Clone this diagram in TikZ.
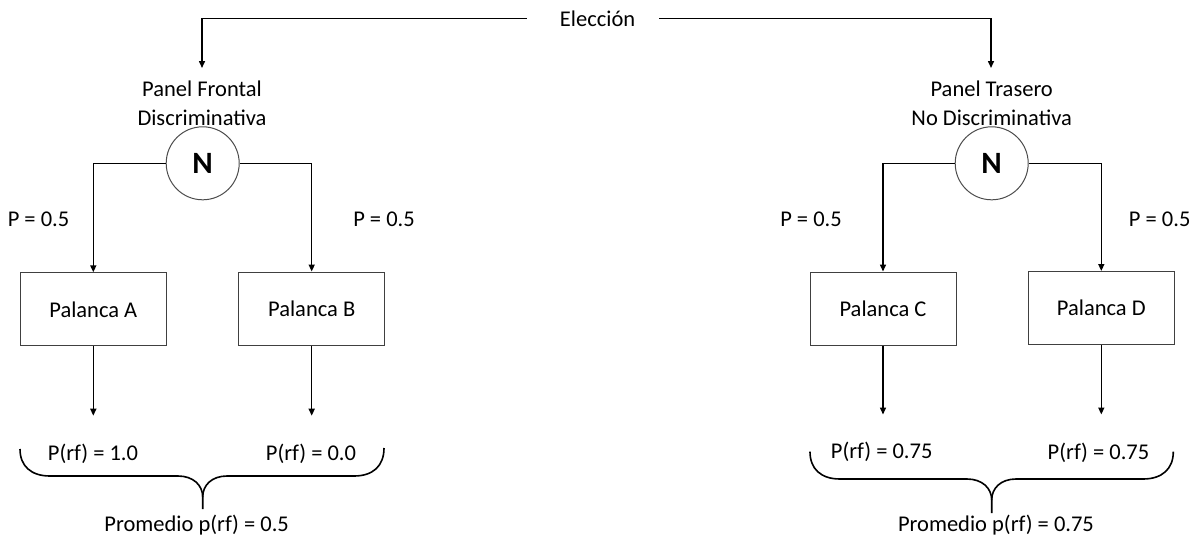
\documentclass[tikz,border=0pt]{standalone}
\usepackage{fontspec}
\setmainfont{Carlito}
\usetikzlibrary{arrows.meta}
\begin{document}
\begin{tikzpicture}[x=1pt,y=-1pt,
  lbl/.style={inner sep=0pt, anchor=base, font=\fontsize{22.5}{27}\selectfont},
  box/.style={draw=black!75, line width=1pt, minimum width=146pt, minimum height=73pt, inner sep=0pt, font=\fontsize{22.5}{27}\selectfont},
  chance/.style={circle, draw=black!70, line width=1pt, minimum size=73pt, inner sep=0pt, font=\bfseries\fontsize{31}{34}\selectfont},
  conn/.style={line width=1.5pt, -{Triangle[length=7pt,width=6pt]}},
  brace/.style={line width=1.6pt}]
\useasboundingbox (0,0) rectangle (1195,539);

% top
\node[lbl] (elec) at (597.6,26.5) {Elección};
\coordinate (eL) at (526.7,18.3);
\coordinate (eR) at (659,18.3);
\coordinate (pfin) at (202,68);
\coordinate (ptin) at (991,68);
\draw[conn] (eL) -| (pfin);
\draw[conn] (eR) -| (ptin);

% left tree
\node[lbl] (pf1) at (202,96.7) {Panel Frontal};
\node[lbl] (pf2) at (202,125) {Discriminativa};
\node[chance] (nL) at (202.7,163.3) {N};
\node[box] (bA) at (93.3,309.3) {Palanca A};
\node[box] (bB) at (311.7,308.5) {Palanca B};
\draw[conn] (nL.west) -| (bA.north);
\draw[conn] (nL.east) -| (bB.north);
\node[lbl] (pA) at (38.5,226.7) {P = 0.5};
\node[lbl] (pB) at (384,226.7) {P = 0.5};
\coordinate (oA) at (93.3,415.7);
\coordinate (oB) at (311.7,415.7);
\draw[conn] (bA.south) -- (oA);
\draw[conn] (bB.south) -- (oB);
\node[lbl] (rA) at (93,460) {P(rf) = 1.0};
\node[lbl] (rB) at (311,460) {P(rf) = 0.0};
\draw[brace] (20,449) .. controls (20,466) and (31,476) .. (50,476) -- (178,476)
  .. controls (193,476) and (202.7,485) .. (202.7,497) -- (202.7,509);
\draw[brace] (384,448) .. controls (384,466) and (373,476) .. (354,476) -- (227,476)
  .. controls (212,476) and (202.7,485) .. (202.7,497);
\node[lbl] (mA) at (196.7,531.7) {Promedio p(rf) = 0.5};

% right tree
\node[lbl] (pt1) at (991.7,96.7) {Panel Trasero};
\node[lbl] (pt2) at (991.7,125) {No Discriminativa};
\node[chance] (nR) at (991.7,163.3) {N};
\node[box] (bC) at (883,308.5) {Palanca C};
\node[box] (bD) at (1101.3,308) {Palanca D};
\draw[conn] (nR.west) -| (bC.north);
\draw[conn] (nR.east) -| (bD.north);
\node[lbl] (pC) at (811,226.3) {P = 0.5};
\node[lbl] (pD) at (1159.7,226.3) {P = 0.5};
\coordinate (oC) at (883,414.5);
\coordinate (oD) at (1101.3,414.5);
\draw[conn] (bC.south) -- (oC);
\draw[conn] (bD.south) -- (oD);
\node[lbl] (rC) at (881.7,458.5) {P(rf) = 0.75};
\node[lbl] (rD) at (1098.5,459) {P(rf) = 0.75};
\draw[brace] (810,451.7) .. controls (810,469) and (821,479) .. (840,479) -- (967,479)
  .. controls (982,479) and (991.7,488) .. (991.7,500) -- (991.7,513);
\draw[brace] (1173.3,451.7) .. controls (1173.3,469) and (1162,479) .. (1143,479) -- (1016,479)
  .. controls (1001,479) and (991.7,488) .. (991.7,500);
\node[lbl] (mC) at (996,531.7) {Promedio p(rf) = 0.75};
\end{tikzpicture}
\end{document}
